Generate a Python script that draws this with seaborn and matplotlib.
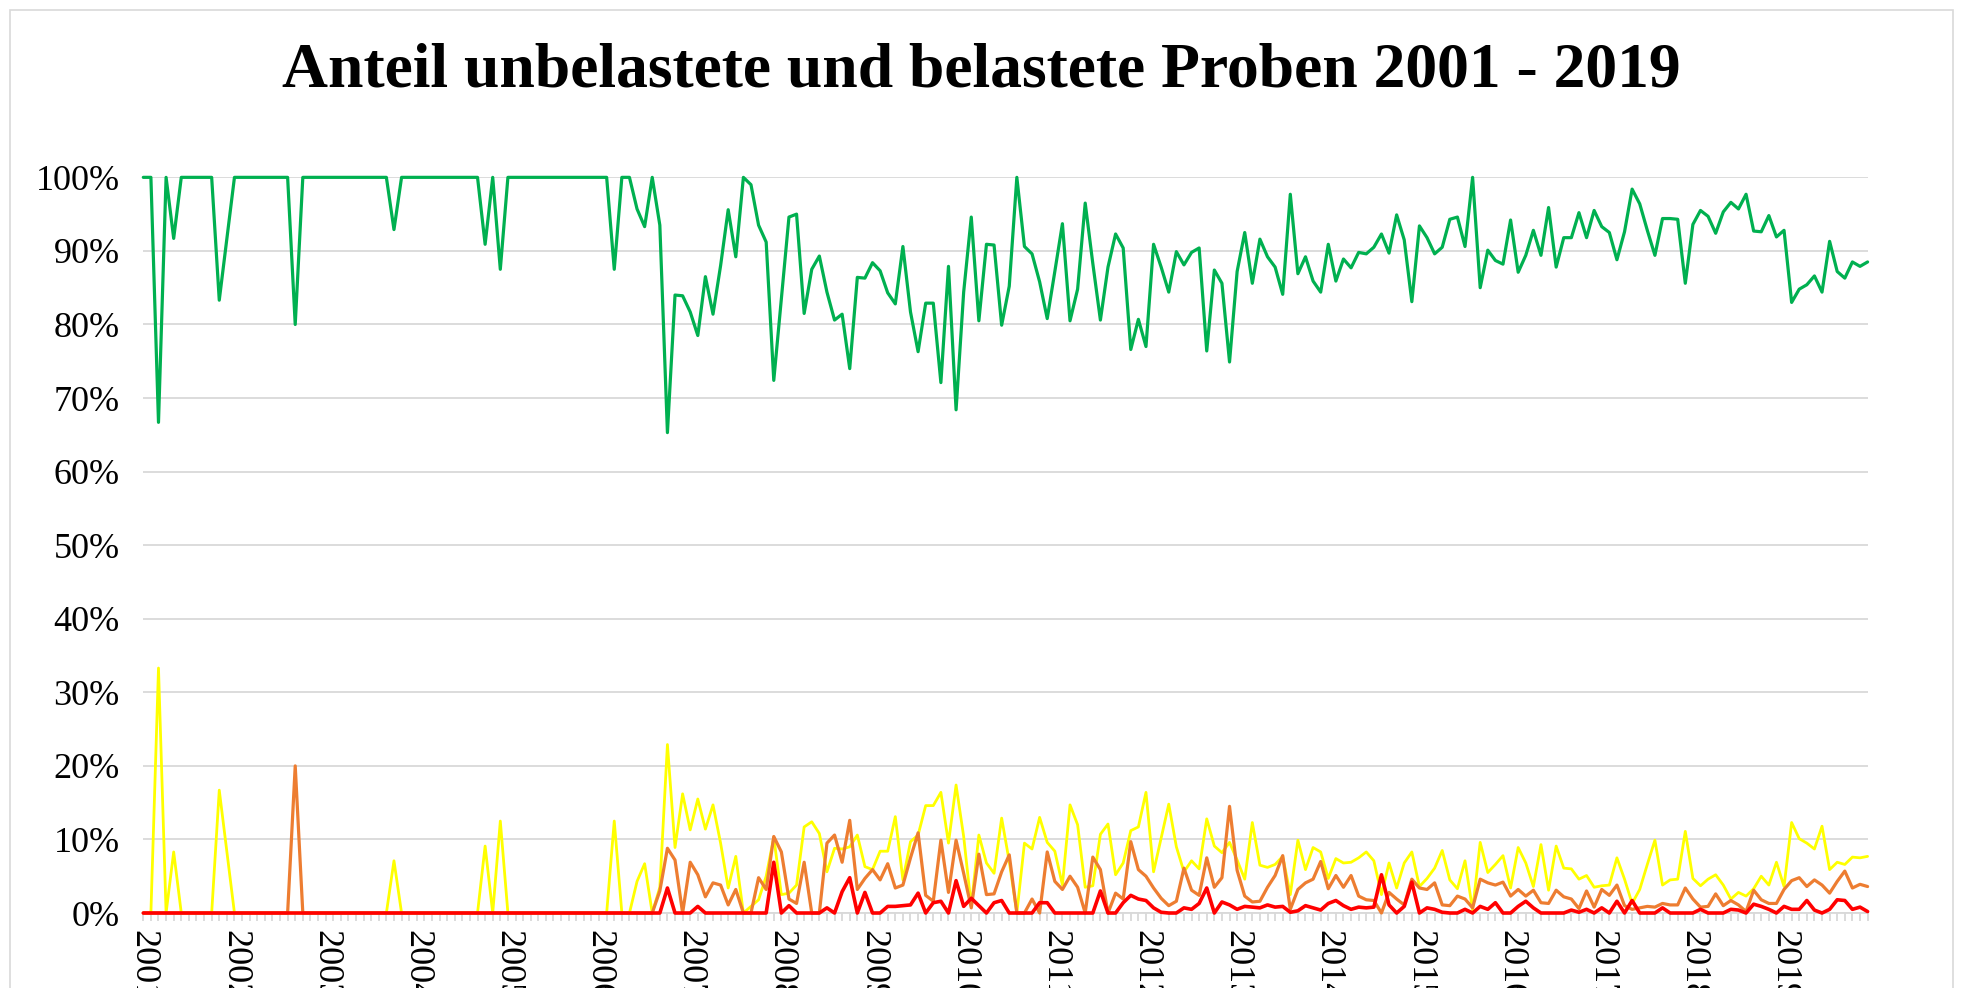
import matplotlib
matplotlib.use("Agg")
import matplotlib.pyplot as plt
import matplotlib.ticker as mticker
from matplotlib.patches import Rectangle
import seaborn as sns
import pandas as pd

# Monthly shares in percent, one line per year (Jan..Dec), 2001 - 2019
years = list(range(2001, 2020))

unbelastet = [
    100, 100, 66.7, 100, 91.7, 100, 100, 100, 100, 100, 83.3, 91.7,
    100, 100, 100, 100, 100, 100, 100, 100, 80, 100, 100, 100,
    100, 100, 100, 100, 100, 100, 100, 100, 100, 92.9, 100, 100,
    100, 100, 100, 100, 100, 100, 100, 100, 100, 90.9, 100, 87.5,
    100, 100, 100, 100, 100, 100, 100, 100, 100, 100, 100, 100,
    100, 100, 87.5, 100, 100, 95.7, 93.3, 100, 93.5, 65.3, 84.0, 83.9,
    81.7, 78.5, 86.5, 81.4, 88.0, 95.6, 89.2, 100, 99.0, 93.5, 91.2, 72.4,
    83.5, 94.6, 95.0, 81.5, 87.5, 89.3, 84.4, 80.6, 81.4, 74.0, 86.4, 86.3,
    88.4, 87.3, 84.3, 82.8, 90.6, 81.7, 76.3, 82.9, 82.9, 72.1, 87.9, 68.4,
    84.4, 94.6, 80.5, 90.9, 90.8, 79.9, 85.2, 100, 90.6, 89.6, 85.8, 80.8,
    87.2, 93.7, 80.5, 84.8, 96.5, 88.3, 80.6, 87.8, 92.3, 90.4, 76.6, 80.7,
    77.0, 90.9, 87.8, 84.4, 89.9, 88.1, 89.8, 90.4, 76.4, 87.4, 85.6, 74.9,
    87.2, 92.5, 85.6, 91.6, 89.2, 87.8, 84.1, 97.7, 86.9, 89.2, 85.9, 84.4,
    90.9, 85.9, 88.9, 87.7, 89.8, 89.6, 90.5, 92.3, 89.7, 94.9, 91.5, 83.1,
    93.4, 91.8, 89.6, 90.5, 94.3, 94.6, 90.6, 100, 85.0, 90.1, 88.7, 88.2,
    94.2, 87.1, 89.4, 92.8, 89.4, 95.9, 87.8, 91.8, 91.8, 95.2, 91.8, 95.5,
    93.3, 92.5, 88.8, 92.6, 98.4, 96.4, 92.8, 89.4, 94.4, 94.4, 94.3, 85.6,
    93.6, 95.5, 94.7, 92.4, 95.3, 96.6, 95.7, 97.7, 92.7, 92.6, 94.8, 91.9,
    92.8, 83.0, 84.8, 85.4, 86.6, 84.4, 91.3, 87.2, 86.3, 88.5, 87.9, 88.5,
]

gering = [
    0, 0, 33.3, 0, 8.3, 0, 0, 0, 0, 0, 16.7, 8.3,
    0, 0, 0, 0, 0, 0, 0, 0, 0, 0, 0, 0,
    0, 0, 0, 0, 0, 0, 0, 0, 0, 7.1, 0, 0,
    0, 0, 0, 0, 0, 0, 0, 0, 0, 9.1, 0, 12.5,
    0, 0, 0, 0, 0, 0, 0, 0, 0, 0, 0, 0,
    0, 0, 12.5, 0, 0, 4.3, 6.7, 0, 3.5, 22.9, 8.9, 16.2,
    11.3, 15.5, 11.4, 14.7, 9.5, 3.4, 7.7, 0, 0.9, 1.8, 5.0, 10.3,
    2.5, 2.7, 3.8, 11.7, 12.4, 10.8, 5.6, 8.8, 8.7, 9.0, 10.6, 6.3,
    5.9, 8.4, 8.4, 13.1, 4.5, 9.7, 10.6, 14.6, 14.6, 16.4, 9.5, 17.4,
    10.4, 0.9, 10.6, 6.8, 5.4, 12.9, 7.0, 0, 9.5, 8.7, 13.0, 9.6,
    8.4, 3.8, 14.7, 12.0, 3.5, 3.7, 10.7, 12.1, 5.2, 6.8, 11.2, 11.7,
    16.4, 5.6, 10.2, 14.8, 9.0, 5.6, 7.1, 6.0, 12.8, 9.1, 8.2, 9.6,
    7.2, 4.6, 12.3, 6.5, 6.2, 6.6, 7.7, 2.5, 9.9, 5.9, 8.9, 8.3,
    4.7, 7.4, 6.8, 6.9, 7.5, 8.3, 7.1, 2.5, 6.8, 3.4, 6.8, 8.3,
    3.6, 4.7, 6.1, 8.5, 4.5, 3.3, 7.1, 0.4, 9.6, 5.5, 6.6, 7.8,
    3.4, 8.9, 6.8, 3.6, 9.3, 3.1, 9.1, 6.1, 6.0, 4.6, 5.1, 3.5,
    3.7, 3.8, 7.5, 4.6, 1.3, 3.2, 6.6, 9.9, 3.8, 4.5, 4.6, 11.1,
    4.7, 3.7, 4.6, 5.2, 3.8, 1.9, 2.8, 2.3, 3.3, 5.0, 3.8, 6.9,
    3.6, 12.3, 10.1, 9.5, 8.7, 11.8, 5.9, 6.9, 6.6, 7.6, 7.5, 7.7,
]

belastet = [
    0, 0, 0, 0, 0, 0, 0, 0, 0, 0, 0, 0,
    0, 0, 0, 0, 0, 0, 0, 0, 20, 0, 0, 0,
    0, 0, 0, 0, 0, 0, 0, 0, 0, 0, 0, 0,
    0, 0, 0, 0, 0, 0, 0, 0, 0, 0, 0, 0,
    0, 0, 0, 0, 0, 0, 0, 0, 0, 0, 0, 0,
    0, 0, 0, 0, 0, 0, 0, 0, 3.0, 8.8, 7.2, 0,
    6.9, 5.2, 2.2, 4.1, 3.8, 1.1, 3.2, 0, 0, 4.8, 3.2, 10.4,
    8.3, 1.9, 1.3, 6.9, 0, 0, 9.5, 10.6, 6.9, 12.6, 3.2, 4.7,
    5.9, 4.5, 6.7, 3.4, 3.8, 7.5, 10.9, 2.4, 1.6, 9.9, 2.8, 9.9,
    5.4, 0.7, 8.0, 2.5, 2.6, 5.6, 7.9, 0, 0, 1.9, 0, 8.3,
    4.3, 3.2, 5.0, 3.5, 0, 7.6, 5.9, 0, 2.7, 1.9, 9.7, 5.9,
    5.0, 3.4, 2.0, 1.0, 1.6, 6.1, 3.1, 2.4, 7.5, 3.5, 4.8, 14.5,
    5.8, 2.3, 1.5, 1.6, 3.5, 5.1, 7.8, 0.5, 3.2, 4.1, 4.6, 7.0,
    3.3, 5.1, 3.5, 5.1, 2.3, 1.8, 1.7, 0, 2.8, 1.9, 1.1, 4.6,
    3.4, 3.2, 4.1, 1.1, 1.0, 2.3, 1.9, 0.7, 4.6, 4.1, 3.8, 4.2,
    2.3, 3.2, 2.3, 3.1, 1.4, 1.3, 3.1, 2.2, 1.9, 0.6, 3.0, 0.8,
    3.2, 2.4, 3.8, 1.0, 0.5, 0.7, 0.9, 0.8, 1.3, 1.1, 1.1, 3.4,
    1.9, 0.8, 0.9, 2.6, 1.0, 1.7, 1.1, 0.2, 3.1, 1.8, 1.3, 1.3,
    3.2, 4.4, 4.8, 3.6, 4.5, 3.8, 2.7, 4.3, 5.7, 3.4, 3.9, 3.6,
]

stark = [
    0, 0, 0, 0, 0, 0, 0, 0, 0, 0, 0, 0,
    0, 0, 0, 0, 0, 0, 0, 0, 0, 0, 0, 0,
    0, 0, 0, 0, 0, 0, 0, 0, 0, 0, 0, 0,
    0, 0, 0, 0, 0, 0, 0, 0, 0, 0, 0, 0,
    0, 0, 0, 0, 0, 0, 0, 0, 0, 0, 0, 0,
    0, 0, 0, 0, 0, 0, 0, 0, 0, 3.4, 0, 0,
    0, 0.9, 0, 0, 0, 0, 0, 0, 0, 0, 0, 6.9,
    0, 1.0, 0, 0, 0, 0, 0.7, 0, 2.9, 4.8, 0, 2.8,
    0, 0, 0.9, 0.9, 1.0, 1.1, 2.7, 0, 1.4, 1.6, 0, 4.4,
    0.9, 2.0, 1.0, 0, 1.4, 1.7, 0, 0, 0, 0, 1.4, 1.4,
    0, 0, 0, 0, 0, 0, 3.0, 0, 0, 1.4, 2.4, 1.9,
    1.7, 0.7, 0.1, 0, 0, 0.7, 0.5, 1.3, 3.4, 0, 1.5, 1.1,
    0.5, 0.9, 0.8, 0.7, 1.1, 0.8, 0.9, 0.1, 0.3, 1.0, 0.7, 0.4,
    1.3, 1.7, 1.0, 0.5, 0.8, 0.7, 0.8, 5.2, 1.1, 0, 0.9, 4.2,
    0, 0.7, 0.5, 0.1, 0, 0, 0.5, 0, 0.9, 0.5, 1.4, 0,
    0, 0.9, 1.6, 0.7, 0, 0, 0, 0, 0.4, 0.1, 0.5, 0,
    0.7, 0, 1.6, 0, 1.7, 0, 0, 0, 0.7, 0, 0, 0,
    0, 0.5, 0, 0, 0, 0.5, 0.4, 0, 1.2, 0.9, 0.5, 0,
    0.9, 0.5, 0.5, 1.7, 0.4, 0, 0.5, 1.8, 1.7, 0.5, 0.8, 0.2,
]

series_names = ["unbelastet", "gering belastet", "belastet", "stark belastet"]
series_colors = ["#00B050", "#FFFF00", "#ED7D31", "#FF0000"]
series_widths = [2.3, 2.0, 2.3, 2.6]

# long-form table for seaborn
frames = []
for name, vals in zip(series_names, [unbelastet, gering, belastet, stark]):
    frames.append(pd.DataFrame({"monat": range(len(vals)), "anteil": vals, "klasse": name}))
df = pd.concat(frames, ignore_index=True)

sns.set_theme(style="white")
plt.rcParams["font.family"] = ["Liberation Serif", "DejaVu Serif"]
plt.rcParams["text.color"] = "black"
plt.rcParams["xtick.labelcolor"] = "black"
plt.rcParams["ytick.labelcolor"] = "black"

fig = plt.figure(figsize=(19.63, 9.88), dpi=100)
ax = fig.add_axes([0.0730, 0.0759, 0.8784, 0.7446])

for name, color, lw in zip(series_names, series_colors, series_widths):
    sns.lineplot(data=df[df["klasse"] == name], x="monat", y="anteil",
                 color=color, linewidth=lw, ax=ax, legend=False)
for i, line in enumerate(ax.get_lines()):
    line.set_clip_on(False)
    line.set_zorder(3 + i)

n_months = len(unbelastet)
ax.set_xlim(0, n_months - 1)
ax.set_ylim(0, 100)
ax.yaxis.set_major_locator(mticker.MultipleLocator(10))
ax.yaxis.set_major_formatter(mticker.PercentFormatter(100, decimals=0))

ax.set_xticks(range(0, n_months, 12))
ax.set_xticklabels([str(y) for y in years], rotation=-90)
ax.set_xticks(range(n_months), minor=True)
ax.tick_params(axis="x", which="both", direction="out", length=6, width=1.3,
               color="#d9d9d9", bottom=True, labelsize=26, pad=6)
ax.tick_params(axis="y", length=0, labelsize=26, pad=17)

ax.yaxis.grid(True, color="#d9d9d9", linewidth=1.3)
ax.set_axisbelow(True)
for side in ["top", "right", "left"]:
    ax.spines[side].set_visible(False)
ax.spines["bottom"].set_color("#d9d9d9")
ax.spines["bottom"].set_linewidth(1.3)
ax.set_xlabel("")
ax.set_ylabel("")

fig.text(0.5, 0.928, "Anteil unbelastete und belastete Proben 2001 - 2019",
         ha="center", va="center", fontsize=45.8, fontweight="bold", color="black")

# chart area frame (cut off at the bottom like the original)
fig.patches.append(Rectangle((0.005, -0.05), 0.99, 1.04, transform=fig.transFigure,
                             fill=False, edgecolor="#d9d9d9", linewidth=1.2))

fig.savefig("out.png", dpi=100)
